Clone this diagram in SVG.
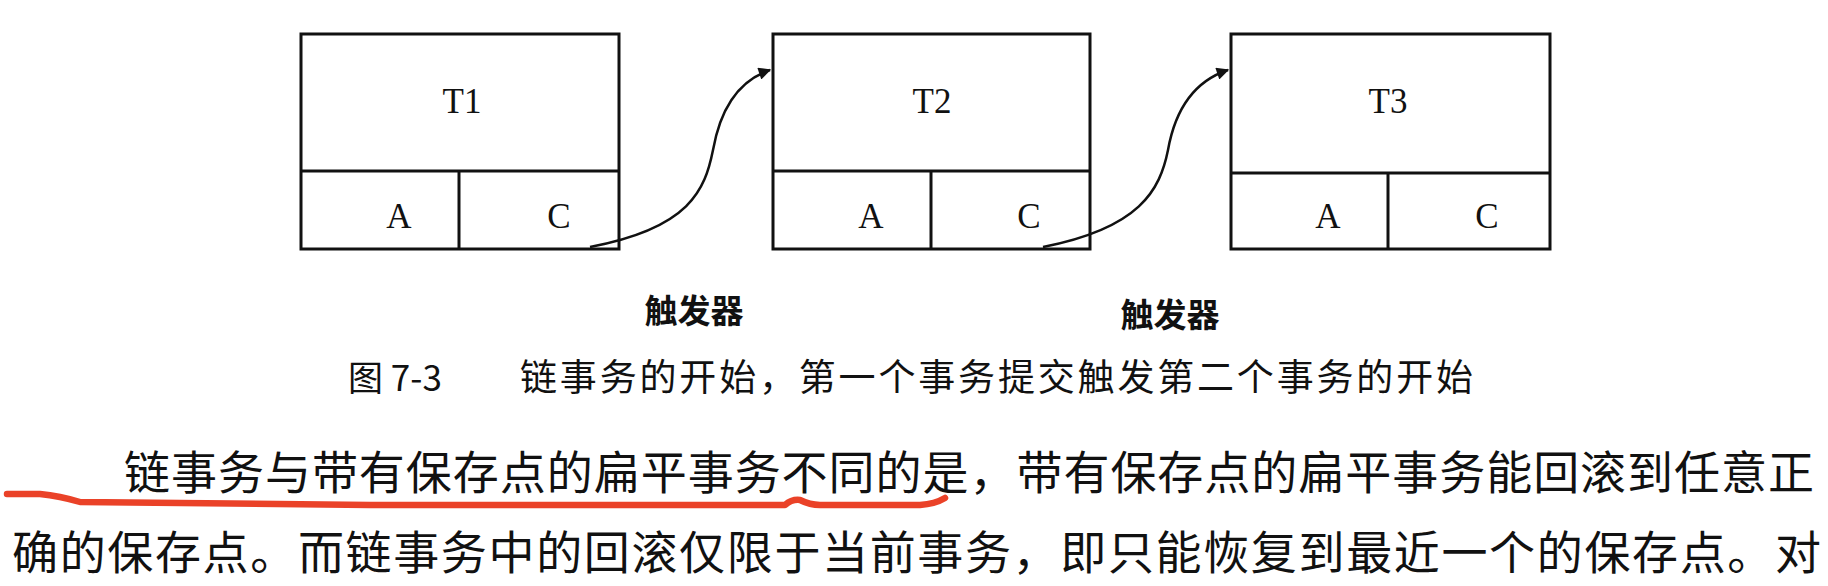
<svg xmlns="http://www.w3.org/2000/svg" width="1828" height="586" viewBox="0 0 1828 586">
<style>
.box{fill:none;stroke:#111;stroke-width:3}
.lbl{font-family:"Liberation Serif","Times New Roman",serif;font-size:35px;fill:#111;text-anchor:middle}
.cjk{font-family:"Noto Sans CJK SC","Noto Sans CJK TC",sans-serif;fill:#111}
.trg{font-size:33px;font-weight:bold;text-anchor:middle}
.conn{fill:none;stroke:#111;stroke-width:2.5}
</style>
<defs>
<marker id="ah" viewBox="0 0 10 10" refX="9" refY="5" markerWidth="7" markerHeight="5" markerUnits="strokeWidth" orient="auto">
<path d="M0,0 L10,5 L0,10 z" fill="#111"/>
</marker>
</defs>
<rect width="1828" height="586" fill="#fff"/>
<g id="T1">
<rect class="box" x="301" y="34" width="318" height="215"/>
<line class="box" x1="301" y1="171" x2="619" y2="171"/>
<line class="box" x1="459" y1="171" x2="459" y2="249"/>
<text class="lbl" x="462" y="113">T1</text>
<text class="lbl" x="399" y="228">A</text>
<text class="lbl" x="559" y="228">C</text>
</g>
<g id="T2">
<rect class="box" x="773" y="34" width="317" height="215"/>
<line class="box" x1="773" y1="171" x2="1090" y2="171"/>
<line class="box" x1="931" y1="171" x2="931" y2="249"/>
<text class="lbl" x="932" y="113">T2</text>
<text class="lbl" x="871" y="228">A</text>
<text class="lbl" x="1029" y="228">C</text>
</g>
<g id="T3">
<rect class="box" x="1231" y="34" width="319" height="215"/>
<line class="box" x1="1231" y1="173" x2="1550" y2="173"/>
<line class="box" x1="1388" y1="173" x2="1388" y2="249"/>
<text class="lbl" x="1388" y="113">T3</text>
<text class="lbl" x="1328" y="228">A</text>
<text class="lbl" x="1487" y="228">C</text>
</g>
<g id="connectors">
<path class="conn" marker-end="url(#ah)" d="M590 247 C690 228 705 190 713 150 C721 105 740 80 770 70"/>
<path class="conn" marker-end="url(#ah)" d="M1043 247 C1140 228 1160 190 1168 150 C1176 105 1198 80 1228 70"/>
</g>
<g id="labels">
<text class="cjk trg" x="694" y="323">触发器</text>
<text class="cjk trg" x="1170" y="327">触发器</text>
<text class="cjk" x="348" y="391" font-size="35">图 7-3</text>
<text class="cjk" x="520" y="391" font-size="37" textLength="953" lengthAdjust="spacing">链事务的开始，第一个事务提交触发第二个事务的开始</text>
<text class="cjk" x="124" y="489" font-size="46" textLength="1690" lengthAdjust="spacing">链事务与带有保存点的扁平事务不同的是，带有保存点的扁平事务能回滚到任意正</text>
<text class="cjk" x="12" y="569" font-size="46" textLength="1809" lengthAdjust="spacing">确的保存点。而链事务中的回滚仅限于当前事务，即只能恢复到最近一个的保存点。对</text>
</g>
<path d="M7 494 L40 494 Q60 496 80 502 L370 505 L785 505 Q792 499 800 500 Q810 505 820 505 L920 505 Q935 504 945 498" fill="none" stroke="#ea4228" stroke-width="6.5" stroke-linecap="round" stroke-linejoin="round"/>
</svg>
